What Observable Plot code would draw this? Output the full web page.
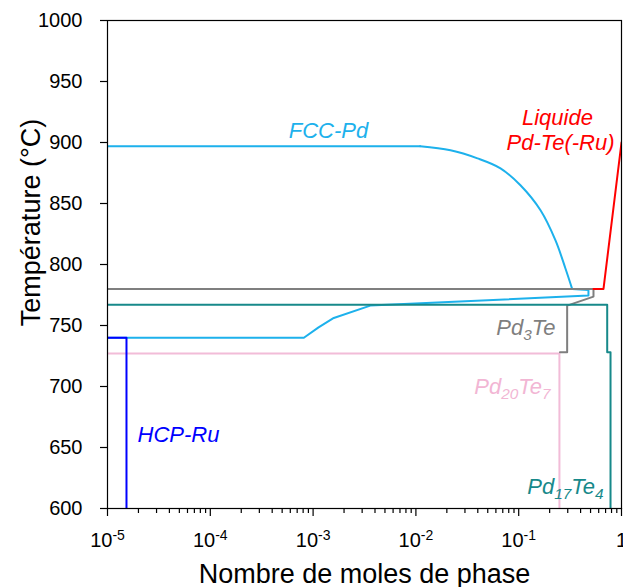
<!DOCTYPE html>
<html><head><meta charset="utf-8">
<script src="https://cdn.jsdelivr.net/npm/d3@7"></script>
<script src="https://cdn.jsdelivr.net/npm/@observablehq/plot@0.6"></script>
<style>
body{margin:0;background:#fff;}
</style></head><body><div id="chart"></div>
<script>
// ---- Data (phase amount in moles, temperature in °C) ----
// FCC-Pd: upper (curved) branch and the rest of the trace
const fccPdUpper_x = [0.011, 0.0217, 0.0397, 0.0665, 0.104, 0.163, 0.228, 0.285, 0.331];
const fccPdUpper_T = [897, 893.6, 887, 878.8, 864.9, 844.4, 819.7, 796.7, 780];
const fccPdRest_x = [1e-5, 0.011];
const fccPdRest_T = [897, 897];
const fccPdLower_x = [0.331, 0.477, 0.477, 0.0036, 0.00159, 0.00113, 0.000813, 1e-5];
const fccPdLower_T = [780, 779, 774.5, 766.3, 756.2, 748.5, 740, 740];
const pd3Te_x = [1e-5, 0.534, 0.534, 0.296, 0.296, 0.252];
const pd3Te_T = [780, 780, 773.7, 766.3, 728, 728];
const pd17Te4_x = [1e-5, 0.726, 0.726, 0.782, 0.782];
const pd17Te4_T = [767, 767, 728, 728, 600];
const pd20Te7_x = [1e-5, 0.249, 0.249];
const pd20Te7_T = [727, 727, 600];
const hcpRu_x = [1e-5, 1.53e-5, 1.53e-5];
const hcpRu_T = [740, 740, 600];
const liquid_x = [0.534, 0.668, 1.0];
const liquid_T = [780, 780, 900];

// ---- Ticks ----
const xMajor = [1e-5, 1e-4, 1e-3, 1e-2, 1e-1, 1];
const xMajorLabels = ["10^-5", "10^-4", "10^-3", "10^-2", "10^-1", "1"];
const xMinorMultipliers = [2, 3, 4, 5, 6, 7, 8, 9];
const yTicks = [600, 650, 700, 750, 800, 850, 900, 950, 1000];

// ---- Annotations ----
const annText   = ["FCC-Pd", "Liquide", "Pd-Te(-Ru)", "Pd_3Te", "Pd_20Te_7", "Pd_17Te_4", "HCP-Ru"];
const annX      = [0.00141, 0.238, 0.255, 0.228, 0.204, 0.668, 1.96e-5];
const annT      = [904, 914.2, 893.6, 742.2, 694.0, 611.9, 654.6];
const annColor  = ["#1DB1EC", "#FF0000", "#FF0000", "#7F7F7F", "#F2B6D4", "#17898A", "#0000FF"];
const annAnchor = ["middle", "middle", "middle", "end", "end", "end", "start"];

const zipXY = (xs, ts) => xs.map((x, i) => ({x, T: ts[i]}));
const xMinor = xMajor.slice(0, -1).flatMap(d => xMinorMultipliers.map(m => m * d));
const ann = annText.map((t, i) => ({text: t, x: annX[i], T: annT[i], color: annColor[i], anchor: annAnchor[i]}));

const lw = 2;
const blue = "#1DB1EC";
const series = [
  [fccPdRest_x, fccPdRest_T, blue, "linear"],
  [fccPdUpper_x, fccPdUpper_T, blue, "catmull-rom"],
  [fccPdLower_x, fccPdLower_T, blue, "linear"],
  [pd20Te7_x, pd20Te7_T, "#F2BCD8", "linear"],
  [pd3Te_x, pd3Te_T, "#7F7F7F", "linear"],
  [pd17Te4_x, pd17Te4_T, "#17898A", "linear"],
  [liquid_x, liquid_T, "#FF0000", "linear"],
  [hcpRu_x, hcpRu_T, "#0000FF", "linear"]
];

const chart = Plot.plot({
  width: 623, height: 587,
  marginLeft: 107, marginRight: 2, marginTop: 20, marginBottom: 79,
  x: {type: "log", domain: [1e-5, 1], axis: null},
  y: {domain: [600, 1000], axis: null},
  style: {fontFamily: "'Liberation Sans', Arial, sans-serif", background: "white", color: "black"},
  marks: [
    ...series.map(([xs, ts, c, cv]) => Plot.line(zipXY(xs, ts), {x: "x", y: "T", stroke: c, strokeWidth: lw, clip: true, curve: cv})),
    Plot.frame({stroke: "black", strokeWidth: 1.2}),
    Plot.axisX(xMinor, {anchor: "bottom", tickSize: 5, tickFormat: () => "", label: null, strokeWidth: 1.2}),
    Plot.axisX(xMajor, {anchor: "bottom", tickSize: 8, tickPadding: 16, fontSize: 20, label: null, strokeWidth: 1.2,
      tickFormat: d => xMajorLabels[xMajor.indexOf(d)]}),
    Plot.axisY(yTicks, {anchor: "left", tickSize: 7, label: null, strokeWidth: 1.2, tickFormat: () => ""}),
    Plot.text(yTicks, {y: d => d, text: d => String(d), frameAnchor: "left", textAnchor: "end", lineAnchor: "middle", dx: -25, fontSize: 20}),
    ...["middle", "end", "start"].map(a => Plot.text(ann.filter(d => d.anchor === a), {
      x: "x", y: "T", text: "text", fill: "color", textAnchor: a, lineAnchor: "bottom",
      fontSize: 22, fontStyle: "italic"})),
    Plot.text(["Température (°C)"], {frameAnchor: "left", textAnchor: "middle", rotate: -90, dx: -76, dy: -42, fontSize: 27, lineAnchor: "middle"}),
    Plot.text(["Nombre de moles de phase"], {frameAnchor: "bottom", textAnchor: "middle", dy: 74, fontSize: 27, lineAnchor: "bottom"})
  ]
});

// superscripts / subscripts
d3.select(chart).selectAll("text").each(function () {
  const t = this.textContent;
  const el = d3.select(this);
  if (t.includes("^")) {
    const [base, exp] = t.split("^");
    el.text(null);
    el.append("tspan").text(base);
    el.append("tspan").attr("font-size", "0.7em").attr("dy", "-0.5em").text(exp);
  } else if (t.includes("_")) {
    const parts = t.split(/_(\d+)/);
    el.text(null);
    let sub = false;
    parts.forEach((p, i) => {
      if (i % 2 === 1) {
        el.append("tspan").attr("font-size", "0.7em").attr("dy", "0.35em").text(p);
        sub = true;
      } else if (p) {
        const ts = el.append("tspan").text(p);
        if (sub) { ts.attr("dy", "-0.245em"); sub = false; }
      }
    });
  }
});

document.getElementById("chart").appendChild(chart);
</script>
</body></html>
